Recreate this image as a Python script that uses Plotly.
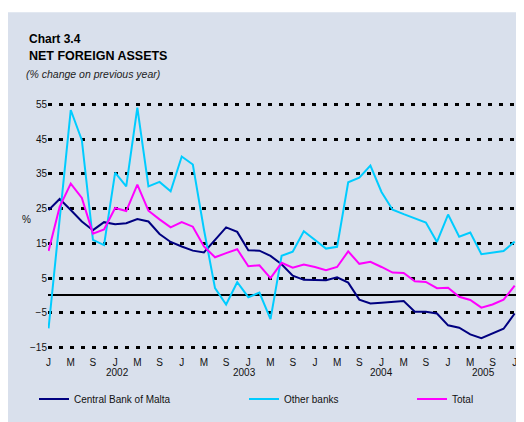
import plotly.graph_objects as go

# monthly data, Jan 2002 - Jul 2005 (% change on previous year)
month_idx = list(range(43))
cbm = [24.6, 27.8, 24.6, 21.3, 18.8, 21.1, 20.5, 20.8, 22.0, 21.3, 17.7, 15.4,
       14.1, 12.9, 12.4, 15.9, 19.6, 18.3, 13.0, 12.9, 11.4, 9.0, 5.7, 4.5,
       4.4, 4.4, 5.2, 3.7, -1.2, -2.3, -2.1, -1.9, -1.6, -4.7, -4.7, -5.2,
       -8.6, -9.3, -11.2, -12.3, -11.0, -9.6, -5.2]
other_banks = [-9.5, 22.0, 53.4, 44.7, 16.0, 14.5, 35.4, 31.4, 54.1, 31.4, 32.7, 30.0,
               40.0, 37.7, 19.0, 2.1, -2.6, 3.8, -0.5, 0.8, -6.8, 11.4, 12.6, 18.5,
               16.0, 13.5, 14.0, 32.6, 33.9, 37.4, 29.8, 24.7, 23.4, 22.2, 21.0, 15.4,
               23.3, 16.9, 18.1, 11.9, 12.4, 12.8, 15.5]
total = [12.8, 25.5, 32.2, 28.1, 17.8, 19.0, 25.2, 24.3, 31.9, 24.4, 21.9, 19.6,
         21.1, 19.8, 14.1, 11.0, 12.2, 13.3, 8.4, 8.7, 5.0, 9.4, 8.0, 8.9,
         8.2, 7.3, 8.2, 12.7, 9.1, 9.7, 8.2, 6.6, 6.5, 4.1, 3.9, 2.1,
         2.2, -0.4, -1.3, -3.5, -2.6, -1.2, 2.8]

tick_months = ["J", "M", "M", "J", "S", "N"]
years = ["2002", "2003", "2004", "2005"]
year_x = [6.2, 17.7, 30.0, 39.2]
y_ticks = [-15, -5, 5, 15, 25, 35, 45, 55]

# page body margin is 8px, so the figure sits at (8, 8) in the window
OFF = 8
W, H = 516, 414
L, R, T, B = 40, 8, 93, 65
pw, ph = W - L - R, H - T - B


def px(x):  # window pixel -> paper x
    return (x - OFF - L) / pw


def py(y):  # window pixel -> paper y
    return (H - B - (y - OFF)) / ph


panel = "#d9e0ec"
font = "Liberation Sans, Arial, sans-serif"

fig = go.Figure()
fig.add_trace(go.Scatter(x=month_idx, y=cbm, mode="lines", name="Central Bank of Malta",
                         line=dict(color="#000080", width=2), legend="legend"))
fig.add_trace(go.Scatter(x=month_idx, y=other_banks, mode="lines", name="Other banks",
                         line=dict(color="#00ccff", width=2), legend="legend2"))
fig.add_trace(go.Scatter(x=month_idx, y=total, mode="lines", name="Total",
                         line=dict(color="#ff00ff", width=2), legend="legend3"))

ticktext = [tick_months[i % 6] for i in range(0, 43, 2)]

fig.update_xaxes(range=[-0.05, 42.12], tickvals=list(range(0, 43, 2)), ticktext=ticktext,
                 showgrid=False, zeroline=False, showline=False, ticks="",
                 ticklabelstandoff=4, tickfont=dict(size=10, color="#111"))
fig.update_yaxes(range=[-16, 56], tickvals=y_ticks, showgrid=True, gridcolor="black",
                 gridwidth=3, griddash="4px,7px", zeroline=True, zerolinecolor="black",
                 zerolinewidth=2, showline=False, ticks="",
                 tickfont=dict(size=10, color="#111"))

for yr, xp in zip(years, year_x):
    fig.add_annotation(x=xp, y=py(387), xref="x", yref="paper", text=yr, showarrow=False,
                       font=dict(size=10, color="#111"))

fig.add_annotation(x=px(27), y=py(28), xref="paper", yref="paper", xanchor="left",
                   text="<b>Chart 3.4</b>", showarrow=False, font=dict(size=12, color="black"))
fig.add_annotation(x=px(27), y=py(46), xref="paper", yref="paper", xanchor="left",
                   text="<b>NET FOREIGN ASSETS</b>", showarrow=False,
                   font=dict(size=12.5, color="black"))
fig.add_annotation(x=px(24), y=py(65), xref="paper", yref="paper", xanchor="left",
                   text="<i>(% change on previous year)</i>", showarrow=False,
                   font=dict(size=10.5, color="#222"))
fig.add_annotation(x=px(20), y=py(222), xref="paper", yref="paper",
                   text="%", showarrow=False, font=dict(size=10, color="#111"))

# a little more white above the panel
fig.add_shape(type="rect", xref="paper", yref="paper", x0=px(0), x1=px(540), y0=py(10),
              y1=py(0), fillcolor="white", line_width=0)

leg = dict(orientation="h", yanchor="bottom", xanchor="left", y=py(421),
           font=dict(size=10, color="#111"), bgcolor="rgba(0,0,0,0)", itemwidth=30,
           borderwidth=0)
fig.update_layout(
    width=W, height=H, autosize=False,
    margin=dict(l=L, r=R, t=T, b=B),
    paper_bgcolor=panel, plot_bgcolor=panel,
    font=dict(family=font, color="#111"),
    showlegend=True,
    legend=dict(leg, x=px(34)),
    legend2=dict(leg, x=px(244)),
    legend3=dict(leg, x=px(412)),
)

fig.write_html("out.html")
